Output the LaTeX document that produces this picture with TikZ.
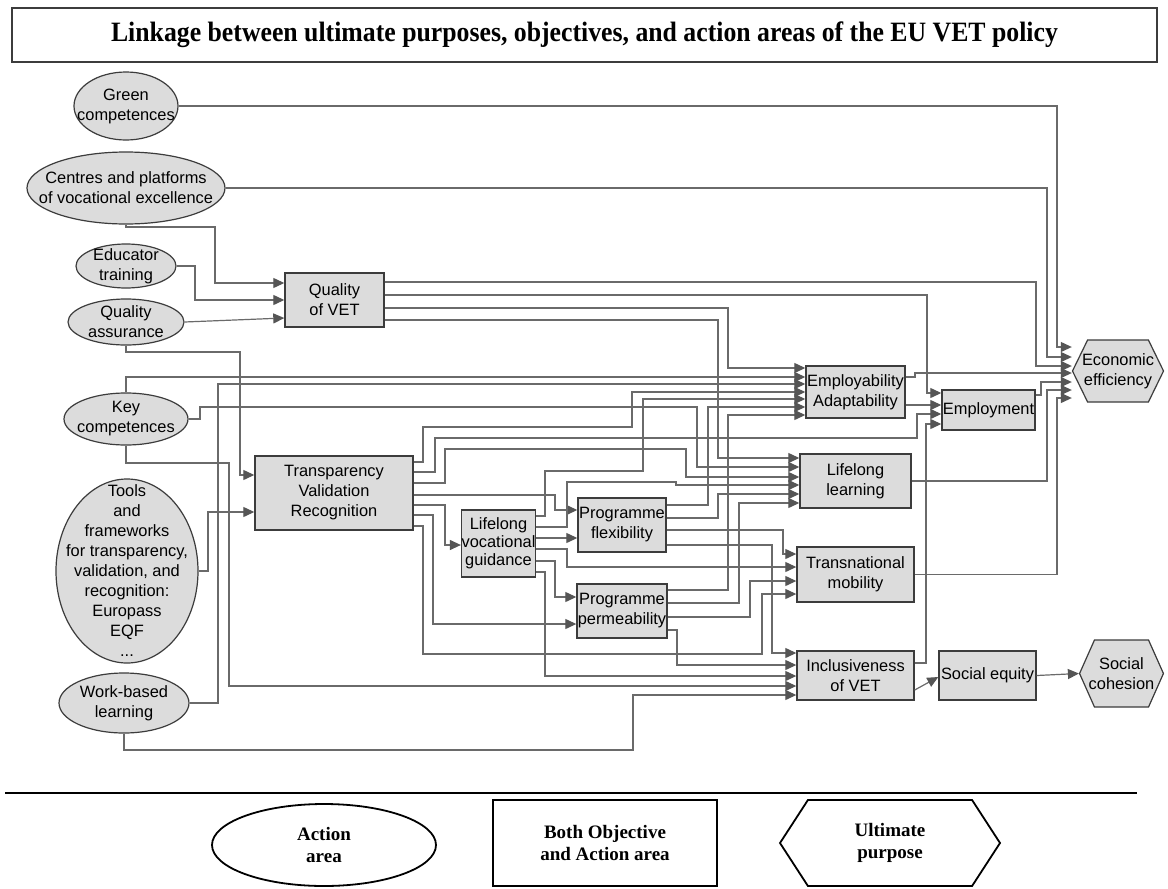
\documentclass[tikz,border=0pt]{standalone}
\usepackage{fontspec}
\setmainfont{Liberation Sans}
\newfontfamily\titlefont{Liberation Serif}
\usepackage{tikz}
\usetikzlibrary{arrows.meta,shapes.geometric,shapes.symbols}
\definecolor{linegray}{HTML}{6A6A6A}
\definecolor{tipgray}{HTML}{555555}
\definecolor{edgegray}{HTML}{3C3C3C}
\definecolor{fillgray}{HTML}{DCDCDC}
\tikzset{
  ln/.style={linegray,line width=0.6pt},
  ar/.style={ln,-{Triangle[length=5.5pt,width=5pt,color=tipgray]}},
  act/.style={ellipse,draw=edgegray,line width=0.6pt,fill=fillgray,inner sep=-30pt,align=center,font=\fontsize{8.2}{10}\selectfont},
  obj/.style={rectangle,draw=edgegray,line width=0.7pt,fill=fillgray,inner sep=0pt,align=center,font=\fontsize{8.2}{10}\selectfont},
  ult/.style={signal,signal to=east and west,draw=edgegray,line width=0.6pt,fill=fillgray,inner ysep=0pt,align=center,font=\fontsize{8.2}{10}\selectfont},
  titlebox/.style={rectangle,draw=edgegray,line width=1pt,inner sep=0pt,font=\titlefont\bfseries\fontsize{14}{16}\selectfont},
  legend/.style={draw=black,line width=0.9pt,align=center,font=\titlefont\bfseries\fontsize{9.5}{11}\selectfont}
}

\begin{document}
\begin{tikzpicture}[x=0.5pt,y=-0.5pt]
\fill[white] (0,0) rectangle (1168,889);
\useasboundingbox (0,0) rectangle (1168,889);
\node[titlebox,minimum width=572.5pt,minimum height=27pt] (title) at (584.5,35) {\scalebox{0.92}[1]{Linkage between ultimate purposes, objectives, and action areas of the EU VET policy}};

% action areas
\node[act,minimum width=52pt,minimum height=34pt] (green) at (126,106) {Green\\competences};
\node[act,minimum width=99pt,minimum height=36pt] (centres) at (126,188) {Centres and platforms\\of vocational excellence};
\node[act,minimum width=50pt,minimum height=22pt] (educ) at (126,266) {Educator\\training};
\node[act,minimum width=58pt,minimum height=23pt] (qa) at (126,322) {Quality\\assurance};
\node[act,minimum width=62pt,minimum height=26pt] (keyc) at (126,419) {Key\\competences};
\node[act,minimum width=71pt,minimum height=92pt] (tools) at (127,571) {Tools\\and\\frameworks\\for transparency,\\validation, and\\recognition:\\Europass\\EQF\\...};
\node[act,minimum width=65pt,minimum height=30pt] (wbl) at (124,703) {Work-based\\learning};

% objectives and action areas
\node[obj,minimum width=49.5pt,minimum height=27pt] (qvet) at (334.5,300) {Quality\\of VET};
\node[obj,minimum width=79pt,minimum height=37pt] (tvr) at (334,493) {Transparency\\Validation\\Recognition};
\node[obj,minimum width=36.5pt,minimum height=33.5pt,font=\fontsize{8.2}{9}\selectfont] (lvg) at (498.5,543.5) {Lifelong\\vocational\\guidance};
\node[obj,minimum width=44pt,minimum height=27pt] (pflex) at (622,525) {Programme\\flexibility};
\node[obj,minimum width=45pt,minimum height=27pt] (pperm) at (622,611) {Programme\\permeability};
\node[obj,minimum width=49.5pt,minimum height=26pt] (emplo) at (855.5,392) {Employability\\Adaptability};
\node[obj,minimum width=46.5pt,minimum height=20pt] (empl) at (988.5,410) {Employment};
\node[obj,minimum width=55.5pt,minimum height=27pt] (ll) at (855.5,481) {Lifelong\\learning};
\node[obj,minimum width=58.5pt,minimum height=27.5pt] (tm) at (855.5,574.5) {Transnational\\mobility};
\node[obj,minimum width=58.5pt,minimum height=24.5pt] (incl) at (855.5,675.5) {Inclusiveness\\of VET};
\node[obj,minimum width=48.5pt,minimum height=24.5pt] (seq) at (987.5,675.5) {Social equity};

% ultimate purposes
\node[ult,minimum height=31pt,inner xsep=-2.8pt,signal pointer angle=128] (ee) at (1118,371) {Economic\\efficiency};
\node[ult,minimum height=33.5pt,inner xsep=-2.9pt,signal pointer angle=132] (sc) at (1121.5,673.5) {Social\\cohesion};

% action areas to objectives
\draw[ar] (green.east) -| (1057,347) -- (ee.west |- 0,347);
\draw[ar] (centres.east) -| (1047,357) -- (ee.west |- 0,357);
\draw[ar] (centres.south) |- (215,227) |- (qvet.west |- 0,283);
\draw[ar] (educ.east) -| (195,300) -- (qvet.west |- 0,300);
\draw[ar] (qa.east) -- (qvet.west |- 0,318);
\draw[ar] (qa.south) |- (240,352) |- (tvr.west |- 0,475);
\draw[ar] (keyc.north) |- (emplo.west |- 0,377);
\draw[ar] (keyc.east) -| (200,407) -| (697,467) -- (ll.west |- 0,467);
\draw[ar] (keyc.south) |- (229,463) |- (incl.west |- 0,686);
\draw[ar] (tools.east) -| (208,512) -- (tvr.west |- 0,512);
\draw[ar] (wbl.east) -| (218,384) -- (emplo.west |- 0,384);
\draw[ar] (wbl.south) |- (633,750) |- (incl.west |- 0,695);

% quality of VET
\draw[ar] (qvet.east |- 0,282) -| (1036,366) -- (ee.west |- 0,366);
\draw[ar] (qvet.east |- 0,295) -| (927,393) -- (empl.west |- 0,393);
\draw[ar] (qvet.east |- 0,308) -| (728,368) -- (emplo.west |- 0,368);
\draw[ar] (qvet.east |- 0,320) -| (718,458) -- (ll.west |- 0,458);

% transparency, validation, recognition
\draw[ar] (tvr.east |- 0,462) -| (423,427) -| (632,392) -- (emplo.west |- 0,392);
\draw[ar] (tvr.east |- 0,472) -| (435,438) -| (917,414) -- (empl.west |- 0,414);
\draw[ar] (tvr.east |- 0,483) -| (445,449) -| (686,477) -- (ll.west |- 0,477);
\draw[ar] (tvr.east |- 0,495) -| (555,510) -- (pflex.west |- 0,510);
\draw[ar] (tvr.east |- 0,505) -| (445,545) -- (lvg.west |- 0,545);
\draw[ar] (tvr.east |- 0,515) -| (433,624) -- (pperm.west |- 0,624);
\draw[ar] (tvr.east |- 0,526) -| (423,654) -| (762,594) -- (tm.west |- 0,594);

% lifelong vocational guidance
\draw[ar] (lvg.east |- 0,516) -| (545,471) -| (643,399) -- (emplo.west |- 0,399);
\draw[ar] (lvg.east |- 0,527) -| (567,482) -| (676,485) -- (ll.west |- 0,485);
\draw[ar] (lvg.east |- 0,538) -- (pflex.west |- 0,538);
\draw[ar] (lvg.east |- 0,549) -| (567,567) -- (tm.west |- 0,567);
\draw[ar] (lvg.east |- 0,561) -| (555,597) -- (pperm.west |- 0,597);
\draw[ar] (lvg.east |- 0,572) -| (545,676) -- (incl.west |- 0,676);

% programme flexibility and permeability
\draw[ar] (pflex.east |- 0,505) -| (708,407) -- (emplo.west |- 0,407);
\draw[ar] (pflex.east |- 0,518) -| (718,494) -- (ll.west |- 0,494);
\draw[ar] (pflex.east |- 0,530) -| (783,554) -- (tm.west |- 0,554);
\draw[ar] (pflex.east |- 0,545) -| (772,653) -- (incl.west |- 0,653);
\draw[ar] (pperm.east |- 0,590) -| (728,415) -- (emplo.west |- 0,415);
\draw[ar] (pperm.east |- 0,603) -| (739,503) -- (ll.west |- 0,503);
\draw[ar] (pperm.east |- 0,617) -| (750,581) -- (tm.west |- 0,581);
\draw[ar] (pperm.east |- 0,630) -| (677,665) -- (incl.west |- 0,665);

% objectives to ultimate purposes
\draw[ar] (emplo.east |- 0,377) -- (915,377) |- (ee.west |- 0,373);
\draw[ar] (emplo.east |- 0,405) -- (empl.west |- 0,405);
\draw[ar] (empl.east |- 0,395) -| (1041,382) -- (ee.west |- 0,382);
\draw[ar] (ll.east) -| (1047,390) -- (ee.west |- 0,390);
\draw[ar] (tm.east) -| (1057,398) -- (ee.west |- 0,398);
\draw[ar] (incl.east |- 0,663) -| (926,424) -- (empl.west |- 0,424);
\draw[ar] (incl.east |- 0,690) -- (seq.west |- 0,677);
\draw[ar] (seq.east) -- (sc.west);

% legend
\draw[black,line width=0.6pt] (5,793) -- (1137,793);
\node[legend,ellipse,minimum width=112pt,minimum height=41pt,inner sep=-30pt] (legA) at (324,845) {Action\\area};
\node[legend,rectangle,minimum width=112pt,minimum height=43pt] (legB) at (605,843) {Both Objective\\and Action area};
\node[legend,signal,signal to=east and west,signal pointer angle=114,minimum width=110pt,minimum height=43pt,inner sep=0pt] (legC) at (890,843) {Ultimate\\purpose};
\end{tikzpicture}
\end{document}
